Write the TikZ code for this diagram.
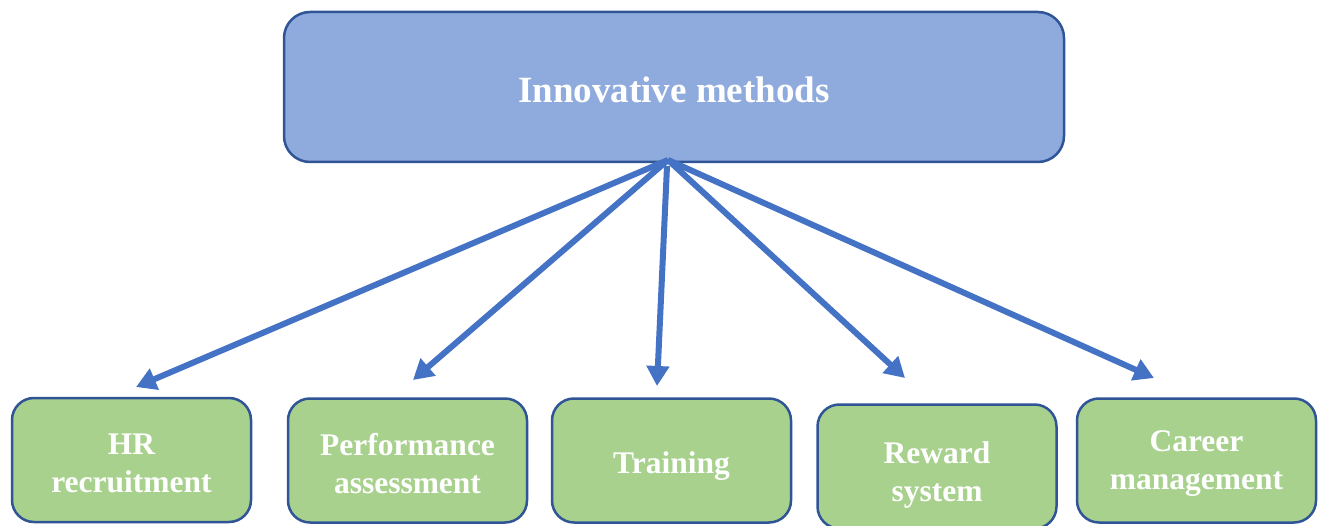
\documentclass[tikz,border=0pt]{standalone}
\usepackage{fontspec}
\setmainfont{Liberation Serif}
\usetikzlibrary{arrows.meta}
\definecolor{topfill}{HTML}{8FAADC}
\definecolor{greenfill}{HTML}{A9D18E}
\definecolor{edge}{HTML}{2F5597}
\definecolor{arrowblue}{HTML}{4472C4}
\tikzset{
  topbox/.style={draw=edge, fill=topfill, line width=2.5pt, rounded corners=26pt,
    minimum width=780pt, minimum height=150pt},
  toptext/.style={text=white, font=\fontsize{37}{44}\selectfont\bfseries},
  leafbox/.style={draw=edge, fill=greenfill, line width=2.5pt, rounded corners=22pt,
    minimum width=239pt, minimum height=124pt},
  leaftext/.style={text=white, align=center, inner sep=0pt,
    font=\fontsize{31.5}{38}\selectfont\bfseries},
  conn/.style={draw=arrowblue, line width=6pt, -{Triangle[length=20pt,width=22pt]}}
}
\begin{document}
\begin{tikzpicture}[x=1pt,y=-1pt]
\useasboundingbox (0,0) rectangle (1322,526);
\node[topbox] (top) at (674,87) {};
\node[toptext] (toplabel) at ([yshift=-3pt]top.center) {Innovative methods};
\node[leafbox] (b1) at (131.5,460) {};
\node[leafbox] (b2) at (407.5,460.5) {};
\node[leafbox] (b3) at (671.5,460.5) {};
\node[leafbox] (b4) at (937,466.5) {};
\node[leafbox] (b5) at (1196.5,460.5) {};
\node[leaftext] (t1) at ([yshift=-3pt]b1.center) {HR\\recruitment};
\node[leaftext] (t2) at ([yshift=-3pt]b2.center) {Performance\\assessment};
\node[leaftext] (t3) at ([yshift=-6pt]b3.center) {Training};
\node[leaftext] (t4) at ([yshift=-8pt]b4.center) {Reward\\system};
\node[leaftext] (t5) at ([yshift=-3pt]b5.center) {Career\\management};
\coordinate (src) at (668,160);
\coordinate (src3) at (667,166);
\coordinate (e1) at (136,387);
\coordinate (e2) at (413,380);
\coordinate (e3) at (657,386);
\coordinate (e4) at (905,378);
\coordinate (e5) at (1154,378);
\draw[conn] (src) -- (e1);
\draw[conn] (src) -- (e2);
\draw[conn] (src3) -- (e3);
\draw[conn] (src) -- (e4);
\draw[conn] (src) -- (e5);
\end{tikzpicture}
\end{document}
